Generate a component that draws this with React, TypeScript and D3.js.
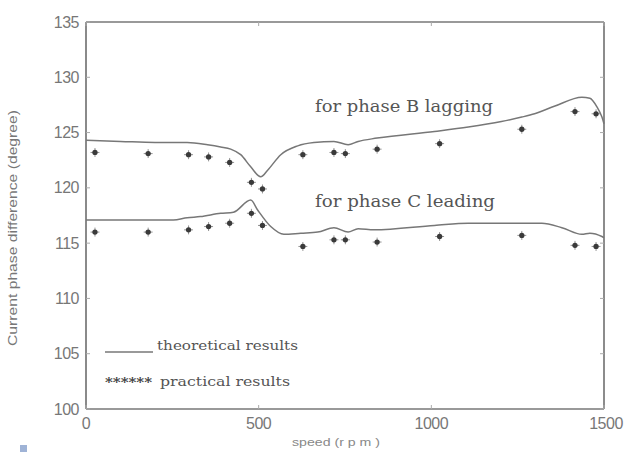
import React from "react";
import * as d3 from "d3";

const speedsTheoryB = [0, 100, 200, 293, 352, 390, 419, 448, 477, 506, 526, 564, 613, 660, 718, 759, 788, 843, 1009, 1107, 1203, 1262, 1299, 1358, 1436, 1459, 1480, 1494, 1500];
const theoryB = [124.3, 124.2, 124.1, 124.1, 123.9, 123.7, 123.5, 123.0, 121.9, 121.0, 121.6, 123.0, 123.8, 124.1, 124.2, 123.9, 124.2, 124.5, 125.1, 125.5, 126.0, 126.4, 126.7, 127.4, 128.2, 128.1, 127.3, 126.4, 125.8];

const speedsTheoryC = [0, 100, 253, 293, 331, 390, 427, 477, 497, 535, 573, 622, 671, 718, 759, 788, 834, 1009, 1107, 1203, 1281, 1320, 1378, 1436, 1459, 1494, 1500];
const theoryC = [117.1, 117.1, 117.1, 117.3, 117.4, 117.7, 117.8, 118.9, 118.0, 116.5, 115.8, 115.9, 116.0, 116.4, 116.0, 116.3, 116.2, 116.6, 116.8, 116.8, 116.8, 116.8, 116.4, 115.8, 115.9, 115.6, 115.5];

const speedsPractical = [26, 180, 297, 355, 416, 479, 511, 628, 718, 751, 843, 1024, 1262, 1416, 1477];
const practicalB = [123.2, 123.1, 123.0, 122.8, 122.3, 120.5, 119.9, 123.0, 123.2, 123.1, 123.5, 124.0, 125.3, 126.9, 126.7];
const practicalC = [116.0, 116.0, 116.2, 116.5, 116.8, 117.7, 116.6, 114.7, 115.3, 115.3, 115.1, 115.6, 115.7, 114.8, 114.7];

const xTicks = [0, 500, 1000, 1500];
const yTicks = [100, 105, 110, 115, 120, 125, 130, 135];

const W = 624, H = 452;
const L = 86, R = 604, T = 22, B = 409;

export default function App() {
  const x = d3.scaleLinear().domain([0, 1500]).range([L, R]);
  const y = d3.scaleLinear().domain([100, 135]).range([B, T]);
  const line = d3.line<[number, number]>().x(d => x(d[0])).y(d => y(d[1])).curve(d3.curveMonotoneX);
  const pathB = line(speedsTheoryB.map((s, i) => [s, theoryB[i]]) as [number, number][]) || "";
  const pathC = line(speedsTheoryC.map((s, i) => [s, theoryC[i]]) as [number, number][]) || "";
  const cross = d3.symbol().type(d3.symbolPlus).size(28)() || "";
  const dot = d3.symbol().type(d3.symbolCircle).size(22)() || "";
  const pts: [number, number][] = [
    ...speedsPractical.map((s, i) => [s, practicalB[i]] as [number, number]),
    ...speedsPractical.map((s, i) => [s, practicalC[i]] as [number, number]),
  ];
  const serif = "'DejaVu Serif', 'Liberation Serif', serif";
  const sans = "'Liberation Sans', Arial, sans-serif";
  return (
    <svg width={W} height={H} style={{ position: "fixed", left: 0, top: 0, background: "#fff" }}>
      <rect x={0} y={0} width={W} height={H} fill="#fff" />
      {/* frame */}
      <line x1={L} y1={T} x2={R} y2={T} stroke="#777" strokeWidth={1.5} />
      <line x1={R} y1={T} x2={R} y2={B} stroke="#666" strokeWidth={1.5} />
      <line x1={L} y1={T} x2={L} y2={B} stroke="#8a8a8a" strokeWidth={2} />
      <line x1={L} y1={B} x2={R} y2={B} stroke="#999" strokeWidth={2} />
      {/* ticks */}
      {yTicks.map(t => (
        <g key={"y" + t}>
          <line x1={L} x2={L + 4} y1={y(t)} y2={y(t)} stroke="#aaa" />
          <line x1={R - 4} x2={R} y1={y(t)} y2={y(t)} stroke="#aaa" />
          <text x={L - 7} y={y(t)} dy="0.35em" textAnchor="end" fontFamily={sans} fontSize={16} fill="#777" letterSpacing={-0.5}>{t}</text>
        </g>
      ))}
      {xTicks.map(t => (
        <g key={"x" + t}>
          <line x1={x(t)} x2={x(t)} y1={B} y2={B - 4} stroke="#aaa" />
          <line x1={x(t)} x2={x(t)} y1={T} y2={T + 4} stroke="#aaa" />
          <text x={t === 1500 ? x(t) + 2 : x(t)} y={B + 20} textAnchor="middle" fontFamily={sans} fontSize={16} fill="#777" letterSpacing={-0.5}>{t}</text>
        </g>
      ))}
      {/* axis labels */}
      <text transform={`translate(17,228) rotate(-90)`} textAnchor="middle" fontFamily={sans} fontSize={12} fill="#777" textLength={236} lengthAdjust="spacingAndGlyphs">Current phase difference (degree)</text>
      <text x={336} y={446} textAnchor="middle" fontFamily={sans} fontSize={11} fill="#888" textLength={88} lengthAdjust="spacingAndGlyphs">speed (r p m )</text>
      {/* theoretical lines */}
      <path d={pathB} fill="none" stroke="#777" strokeWidth={1.5} />
      <path d={pathC} fill="none" stroke="#777" strokeWidth={1.5} />
      {/* practical points */}
      {pts.map((p, i) => (
        <g key={"p" + i} transform={`translate(${x(p[0])},${y(p[1])})`}>
          <path d={cross} fill="none" stroke="#777" strokeWidth={0.8} />
          <path d={dot} fill="#3a3a3a" />
        </g>
      ))}
      {/* annotations */}
      <text x={315} y={112} fontFamily={serif} fontSize={16.5} fill="#555" textLength={178} lengthAdjust="spacingAndGlyphs">for phase B lagging</text>
      <text x={315} y={207} fontFamily={serif} fontSize={16.5} fill="#555" textLength={180} lengthAdjust="spacingAndGlyphs">for phase C leading</text>
      {/* legend */}
      <line x1={105} x2={153} y1={352} y2={352} stroke="#777" strokeWidth={1.5} />
      <text x={157} y={350} fontFamily={serif} fontSize={13} fill="#555" textLength={141} lengthAdjust="spacingAndGlyphs">theoretical results</text>
      <text x={105} y={387} fontFamily={serif} fontSize={13} fontWeight="bold" fill="#444" textLength={47} lengthAdjust="spacingAndGlyphs">******</text>
      <text x={160} y={386} fontFamily={serif} fontSize={13} fill="#555" textLength={130} lengthAdjust="spacingAndGlyphs">practical results</text>
      <rect x={20} y={445} width={7} height={7} fill="#9fb3d6" />
    </svg>
  );
}
